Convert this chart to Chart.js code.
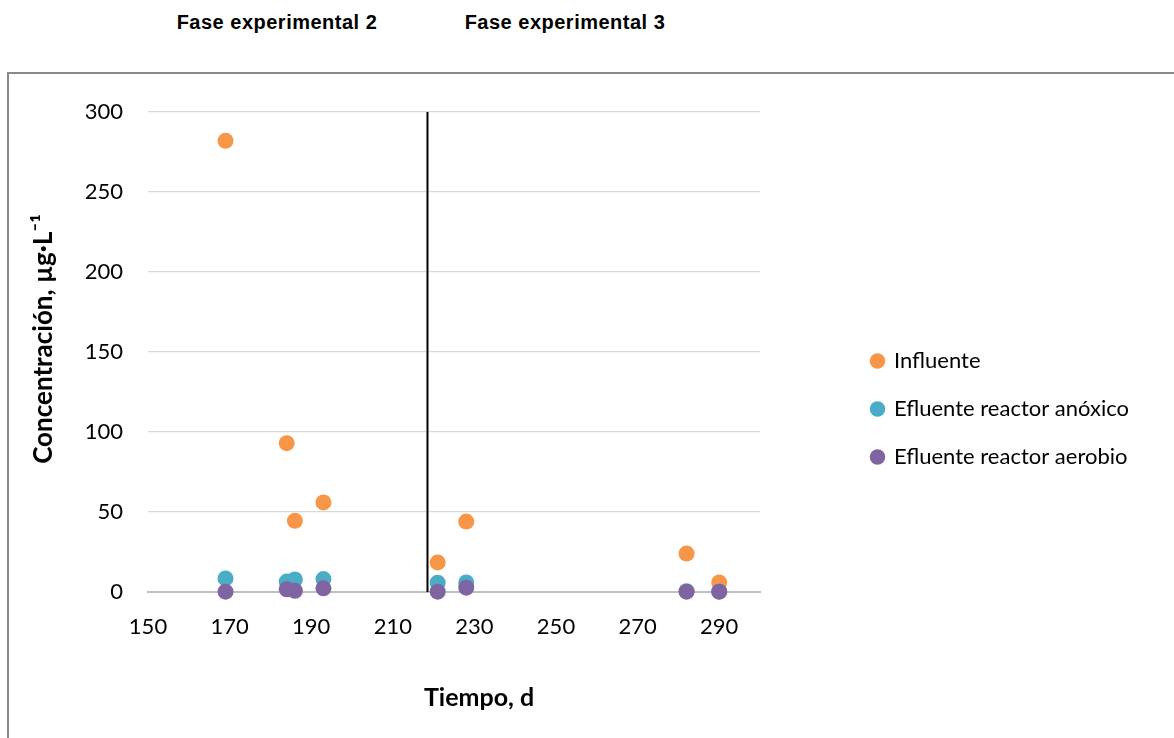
<!DOCTYPE html>
<html><head><meta charset="utf-8">
<script src="https://cdn.jsdelivr.net/npm/chart.js@4.4.0/dist/chart.umd.min.js"></script>
<style>
html,body{margin:0;padding:0;background:#fff;}
#wrap{position:relative;width:1174px;height:738px;overflow:hidden;}
#frame{position:absolute;left:7px;top:72px;width:1200px;height:700px;border-left:2px solid #8a8a8a;border-top:2px solid #8a8a8a;}
.phase{position:absolute;top:11px;font:bold 20px "Liberation Sans",Arial,sans-serif;letter-spacing:0.5px;transform:translateX(-50%);white-space:nowrap;color:#000;}
canvas{position:absolute;left:0;top:0;}
</style></head>
<body><div id="wrap"><div id="frame"></div>
<div class="phase" style="left:277px">Fase experimental 2</div>
<div class="phase" style="left:565px">Fase experimental 3</div>
<canvas id="c" width="1174" height="738"></canvas></div>
<script>
const dias = [169, 184, 186, 193, 221, 228, 282, 290];
const influente = [282, 93, 44.5, 56, 18.5, 44, 24, 6];
const anoxico = [8.5, 6.5, 7.8, 8.1, 5.8, 6, 0.5, 0.3];
const aerobio = [0.2, 1.7, 0.8, 2.3, 0.2, 2.7, 0.2, 0.2];
const cambioFase = 218.5;
const xTicks = [150, 170, 190, 210, 230, 250, 270, 290];
const yTicks = [0, 50, 100, 150, 200, 250, 300];
const seriesNames = ['Influente', 'Efluente reactor anóxico', 'Efluente reactor aerobio'];
const colores = ['#F79646', '#4BACC6', '#8064A2'];

const pts = arr => dias.map((d, i) => ({x: d, y: arr[i]}));
const F = 'Lato, "Open Sans", sans-serif';

const mk = (i, arr, order) => ({
  label: seriesNames[i], data: pts(arr),
  backgroundColor: colores[i], borderColor: colores[i], borderWidth: 0,
  pointRadius: 8, pointHoverRadius: 8, pointBorderWidth: 0, order: order, clip: false
});

const legendWidthFix = {
  id: 'legendWidthFix',
  beforeLayout(chart) {
    const lg = chart.legend;
    if (lg && !lg._wfix) {
      const f = lg.fit;
      lg.fit = function () { f.call(this); if (this.options.display) this.width = 296; };
      lg._wfix = true;
    }
  }
};

new Chart(document.getElementById('c'), {
  type: 'scatter',
  data: { datasets: [
    mk(0, influente, 3), mk(1, anoxico, 2), mk(2, aerobio, 1),
    { label: 'cambio', type: 'line', data: [{x: cambioFase, y: 0}, {x: cambioFase, y: 300}],
      borderColor: '#000', backgroundColor: '#000', borderWidth: 2, pointRadius: 0, showLine: true, fill: false, order: 4 }
  ]},
  plugins: [legendWidthFix],
  options: {
    responsive: false, animation: false, devicePixelRatio: 1,
    layout: { padding: { top: 112, left: 20, right: 32, bottom: 32 } },
    plugins: {
      legend: { position: 'right',
        labels: { usePointStyle: true, pointStyle: 'circle', boxWidth: 11, boxHeight: 11, padding: 26,
          font: { family: F, size: 22 }, color: '#000',
          filter: it => it.datasetIndex < 3,
          sort: (a, b) => a.datasetIndex - b.datasetIndex } },
      tooltip: { enabled: false }
    },
    scales: {
      x: { type: 'linear', min: 150, max: 300,
        afterBuildTicks: s => { s.ticks = xTicks.map(v => ({value: v})); },
        grid: { display: false, drawTicks: false },
        border: { display: true, color: '#BFBFBF', width: 2 },
        ticks: { font: { family: F, size: 22 }, color: '#000', padding: 22 },
        title: { display: true, text: '\u2002\u2002\u2002\u2002Tiempo, d', font: { family: F, size: 25, weight: 'bold' }, color: '#000', padding: { top: 0, bottom: -7 } },
        afterFit: s => { s.height = 114; } },
      y: { min: 0, max: 300,
        afterBuildTicks: s => { s.ticks = yTicks.map(v => ({value: v})); },
        grid: { color: '#D9D9D9', lineWidth: 1.3, drawTicks: false },
        border: { display: false },
        ticks: { font: { family: F, size: 22 }, color: '#000', padding: 25 },
        title: { display: true, text: '\u2002\u2002Concentración, µg·L⁻¹', font: { family: F, size: 26, weight: 'bold' }, color: '#000', padding: { top: 8, bottom: 0 } },
        afterFit: s => { s.width = 128; } },
      yR: { type: 'linear', position: 'right', display: true,
        grid: { display: false, drawTicks: false }, border: { display: false },
        ticks: { display: false },
        afterFit: s => { s.width = 86; } }
    }
  }
});
</script>
</body></html>
